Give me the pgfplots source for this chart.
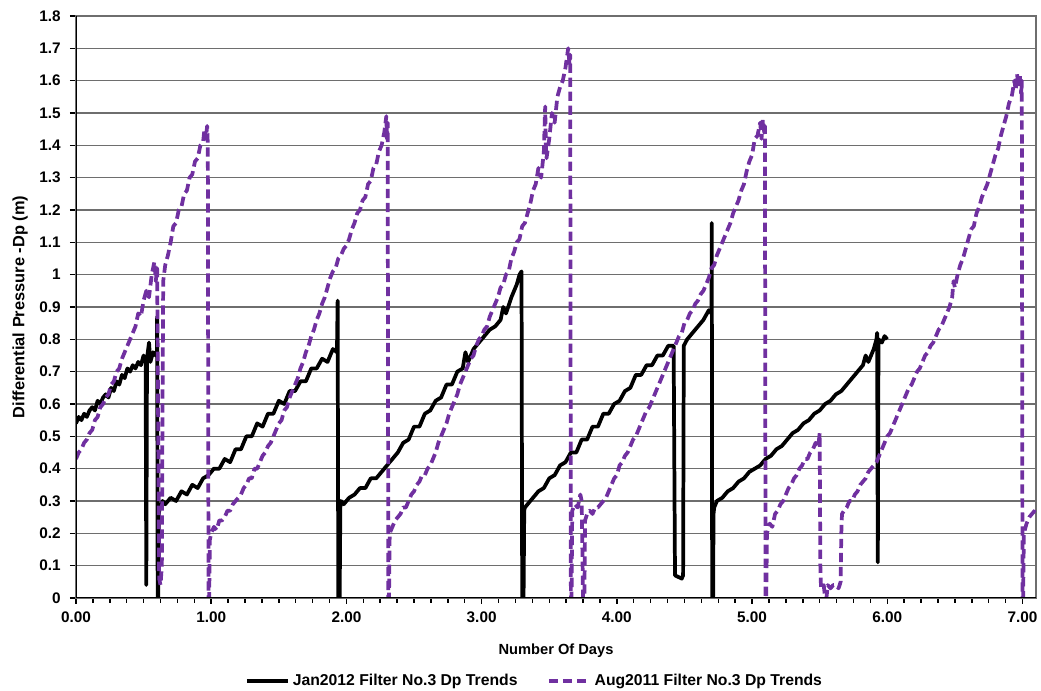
\documentclass[border=0pt]{standalone}
\usepackage{fontspec}
\setmainfont{Liberation Sans}
\usepackage{pgfplots}
\usepackage{pgfplotstable}
\pgfplotsset{compat=1.18}
\definecolor{aug}{RGB}{112,48,160}
\definecolor{gridc}{RGB}{110,110,110}

\pgfplotstableread{
x y
0.00 0.54
0.02 0.56
0.04 0.55
0.06 0.57
0.08 0.56
0.10 0.58
0.12 0.59
0.14 0.58
0.16 0.61
0.18 0.60
0.20 0.62
0.22 0.63
0.24 0.62
0.26 0.65
0.28 0.64
0.30 0.67
0.32 0.66
0.34 0.69
0.36 0.68
0.38 0.71
0.40 0.70
0.42 0.72
0.44 0.71
0.46 0.73
0.48 0.72
0.50 0.75
0.515 0.73
0.520 0.04
0.525 0.74
0.54 0.79
0.55 0.73
0.57 0.76
0.59 0.75
0.598 0.76
0.600 0.87
0.604 0.00
0.608 0.00
0.612 0.26
0.62 0.28
0.64 0.30
0.66 0.29
0.70 0.31
0.74 0.30
0.78 0.33
0.82 0.32
0.86 0.35
0.90 0.34
0.94 0.37
0.98 0.38
1.02 0.40
1.06 0.40
1.10 0.43
1.14 0.42
1.18 0.46
1.22 0.46
1.26 0.50
1.30 0.50
1.34 0.54
1.38 0.53
1.42 0.57
1.46 0.57
1.50 0.61
1.54 0.60
1.58 0.64
1.62 0.64
1.66 0.67
1.70 0.67
1.74 0.71
1.78 0.71
1.82 0.74
1.86 0.73
1.90 0.77
1.93 0.76
1.935 0.92
1.940 0.00
1.950 0.00
1.955 0.28
1.96 0.30
1.98 0.29
2.02 0.31
2.06 0.32
2.10 0.34
2.14 0.34
2.18 0.37
2.22 0.37
2.26 0.39
2.30 0.41
2.34 0.43
2.38 0.45
2.42 0.48
2.46 0.49
2.50 0.53
2.54 0.53
2.58 0.57
2.62 0.58
2.66 0.61
2.70 0.62
2.74 0.66
2.78 0.66
2.82 0.70
2.86 0.71
2.88 0.76
2.90 0.73
2.94 0.77
2.98 0.79
3.02 0.81
3.06 0.83
3.10 0.84
3.14 0.86
3.16 0.90
3.18 0.88
3.22 0.93
3.26 0.97
3.28 1.00
3.295 1.01
3.300 0.00
3.310 0.00
3.315 0.27
3.32 0.28
3.34 0.29
3.38 0.31
3.42 0.33
3.46 0.34
3.50 0.37
3.54 0.38
3.58 0.41
3.62 0.42
3.66 0.45
3.70 0.45
3.74 0.49
3.78 0.49
3.82 0.53
3.86 0.53
3.90 0.57
3.94 0.57
3.98 0.60
4.02 0.61
4.06 0.64
4.10 0.65
4.14 0.69
4.18 0.69
4.22 0.72
4.26 0.72
4.30 0.75
4.34 0.75
4.38 0.78
4.42 0.78
4.430 0.07
4.480 0.06
4.490 0.07
4.495 0.78
4.52 0.80
4.56 0.82
4.60 0.84
4.64 0.86
4.68 0.89
4.70 0.88
4.702 1.16
4.705 0.00
4.712 0.00
4.715 0.26
4.72 0.28
4.74 0.30
4.78 0.31
4.82 0.33
4.86 0.34
4.90 0.36
4.94 0.37
4.98 0.39
5.02 0.40
5.06 0.41
5.10 0.43
5.14 0.44
5.18 0.46
5.22 0.47
5.26 0.49
5.30 0.51
5.34 0.52
5.38 0.54
5.42 0.55
5.46 0.57
5.50 0.58
5.54 0.60
5.58 0.61
5.62 0.63
5.66 0.64
5.70 0.66
5.74 0.68
5.78 0.70
5.82 0.72
5.84 0.75
5.86 0.73
5.90 0.77
5.92 0.80
5.925 0.82
5.930 0.11
5.935 0.80
5.96 0.79
5.98 0.81
6.00 0.80
}\janTable

\pgfplotstableread{
x y
0.00 0.43
0.02 0.45
0.04 0.46
0.06 0.48
0.08 0.49
0.10 0.51
0.12 0.52
0.14 0.55
0.16 0.56
0.18 0.59
0.20 0.60
0.22 0.62
0.24 0.63
0.26 0.66
0.28 0.67
0.30 0.70
0.32 0.71
0.34 0.74
0.36 0.76
0.38 0.78
0.40 0.80
0.42 0.82
0.44 0.84
0.46 0.88
0.48 0.87
0.50 0.92
0.52 0.95
0.54 0.93
0.56 1.00
0.58 1.04
0.59 0.98
0.60 1.02
0.61 0.40
0.615 0.06
0.625 0.04
0.635 0.10
0.64 0.60
0.645 0.98
0.66 1.03
0.68 1.06
0.70 1.10
0.72 1.15
0.74 1.16
0.76 1.20
0.78 1.21
0.80 1.25
0.82 1.26
0.84 1.30
0.86 1.31
0.88 1.35
0.90 1.36
0.92 1.40
0.94 1.41
0.95 1.45
0.96 1.42
0.97 1.46
0.975 1.40
0.980 0.00
0.985 0.00
0.99 0.18
1.00 0.20
1.02 0.22
1.04 0.21
1.06 0.24
1.08 0.24
1.10 0.25
1.12 0.27
1.14 0.27
1.16 0.29
1.18 0.30
1.20 0.31
1.22 0.32
1.24 0.34
1.26 0.35
1.28 0.37
1.30 0.37
1.32 0.40
1.34 0.40
1.36 0.42
1.38 0.44
1.40 0.45
1.42 0.47
1.44 0.48
1.46 0.50
1.48 0.52
1.50 0.54
1.52 0.55
1.54 0.58
1.56 0.59
1.58 0.62
1.60 0.64
1.62 0.66
1.64 0.68
1.66 0.71
1.68 0.73
1.70 0.76
1.72 0.78
1.74 0.81
1.76 0.83
1.78 0.86
1.80 0.88
1.82 0.91
1.84 0.93
1.86 0.96
1.88 0.99
1.90 1.01
1.92 1.02
1.94 1.05
1.96 1.06
1.98 1.08
2.00 1.09
2.02 1.11
2.04 1.14
2.06 1.16
2.08 1.19
2.10 1.20
2.12 1.23
2.14 1.24
2.16 1.28
2.18 1.29
2.20 1.33
2.22 1.34
2.24 1.38
2.26 1.40
2.28 1.44
2.295 1.49
2.300 1.42
2.305 1.47
2.310 0.00
2.315 0.00
2.32 0.20
2.34 0.22
2.36 0.24
2.38 0.25
2.40 0.26
2.42 0.28
2.44 0.28
2.46 0.30
2.48 0.32
2.50 0.33
2.52 0.35
2.54 0.36
2.56 0.38
2.58 0.38
2.60 0.40
2.62 0.41
2.64 0.43
2.66 0.45
2.68 0.48
2.70 0.50
2.72 0.52
2.74 0.54
2.76 0.57
2.78 0.59
2.80 0.61
2.82 0.63
2.84 0.66
2.86 0.68
2.88 0.70
2.90 0.72
2.92 0.74
2.94 0.75
2.96 0.78
2.98 0.80
3.00 0.81
3.02 0.83
3.04 0.84
3.06 0.87
3.08 0.89
3.10 0.91
3.12 0.93
3.14 0.96
3.16 0.97
3.18 1.00
3.20 1.01
3.22 1.05
3.24 1.07
3.26 1.10
3.28 1.11
3.30 1.15
3.32 1.16
3.34 1.19
3.36 1.22
3.38 1.26
3.40 1.28
3.42 1.33
3.44 1.30
3.46 1.38
3.47 1.52
3.475 1.40
3.48 1.36
3.50 1.42
3.52 1.50
3.54 1.47
3.56 1.55
3.58 1.58
3.60 1.60
3.62 1.64
3.64 1.70
3.65 1.65
3.655 1.68
3.660 0.00
3.665 0.00
3.67 0.27
3.69 0.29
3.71 0.28
3.73 0.32
3.74 0.30
3.750 0.00
3.760 0.00
3.765 0.24
3.78 0.26
3.80 0.27
3.82 0.26
3.84 0.28
3.86 0.28
3.88 0.29
3.90 0.30
3.92 0.31
3.94 0.33
3.96 0.35
3.98 0.37
4.00 0.38
4.02 0.41
4.04 0.42
4.06 0.44
4.08 0.45
4.10 0.47
4.12 0.49
4.14 0.50
4.16 0.52
4.18 0.54
4.20 0.56
4.22 0.58
4.24 0.59
4.26 0.61
4.28 0.63
4.30 0.65
4.32 0.67
4.34 0.69
4.36 0.71
4.38 0.73
4.40 0.75
4.42 0.77
4.44 0.79
4.46 0.81
4.48 0.82
4.50 0.85
4.52 0.86
4.54 0.88
4.56 0.89
4.58 0.91
4.60 0.92
4.62 0.94
4.64 0.95
4.66 0.97
4.68 0.99
4.70 1.02
4.72 1.03
4.74 1.06
4.76 1.08
4.78 1.10
4.80 1.12
4.82 1.14
4.84 1.16
4.86 1.19
4.88 1.21
4.90 1.23
4.92 1.26
4.94 1.28
4.96 1.32
4.98 1.35
5.00 1.37
5.02 1.42
5.04 1.43
5.06 1.47
5.07 1.42
5.08 1.48
5.09 1.44
5.095 1.46
5.100 0.00
5.105 0.00
5.11 0.20
5.13 0.23
5.15 0.22
5.17 0.26
5.19 0.27
5.21 0.29
5.23 0.30
5.25 0.32
5.27 0.34
5.29 0.35
5.31 0.37
5.33 0.38
5.35 0.40
5.37 0.41
5.39 0.43
5.41 0.43
5.43 0.45
5.45 0.46
5.47 0.48
5.49 0.47
5.50 0.51
5.505 0.10
5.51 0.03
5.53 0.04
5.54 0.00
5.55 0.00
5.56 0.04
5.58 0.03
5.60 0.04
5.62 0.04
5.64 0.03
5.655 0.05
5.66 0.20
5.665 0.26
5.68 0.27
5.70 0.28
5.72 0.30
5.74 0.30
5.76 0.32
5.78 0.33
5.80 0.35
5.82 0.36
5.84 0.37
5.86 0.39
5.88 0.40
5.90 0.41
5.92 0.42
5.94 0.44
5.96 0.46
5.98 0.48
6.00 0.50
6.02 0.51
6.04 0.53
6.06 0.55
6.08 0.57
6.10 0.59
6.12 0.61
6.14 0.63
6.16 0.65
6.18 0.66
6.20 0.68
6.22 0.70
6.24 0.71
6.26 0.73
6.28 0.75
6.30 0.76
6.32 0.78
6.34 0.79
6.36 0.81
6.38 0.83
6.40 0.84
6.42 0.86
6.44 0.88
6.46 0.90
6.48 0.93
6.49 0.98
6.50 0.96
6.52 1.00
6.54 1.03
6.56 1.05
6.58 1.08
6.60 1.11
6.62 1.14
6.64 1.15
6.66 1.19
6.68 1.21
6.70 1.24
6.72 1.26
6.74 1.28
6.76 1.31
6.78 1.34
6.80 1.37
6.82 1.39
6.84 1.43
6.86 1.46
6.88 1.49
6.90 1.53
6.92 1.55
6.94 1.60
6.95 1.57
6.96 1.62
6.97 1.58
6.98 1.62
6.99 1.56
6.995 1.60
7.000 0.00
7.005 0.00
7.01 0.20
7.03 0.23
7.05 0.25
7.07 0.26
7.09 0.27
7.10 0.28
}\augTable

\begin{document}
\begin{tikzpicture}
\path[use as bounding box] (-57pt,-69.75pt) rectangle (723.75pt,448.5pt);
\begin{axis}[
  at={(0pt,0pt)}, anchor=south west,
  scale only axis, width=720pt, height=436.5pt,
  xmin=0, xmax=7.1, ymin=0, ymax=1.8,
  xtick={0,1,2,3,4,5,6,7},
  xticklabels={0.00,1.00,2.00,3.00,4.00,5.00,6.00,7.00},
  minor xtick={0.125,0.25,...,7.05},
  ytick={0,0.1,0.2,0.3,0.4,0.5,0.6,0.7,0.8,0.9,1,1.1,1.2,1.3,1.4,1.5,1.6,1.7,1.8},
  yticklabels={0,0.1,0.2,0.3,0.4,0.5,0.6,0.7,0.8,0.9,1,1.1,1.2,1.3,1.4,1.5,1.6,1.7,1.8},
  tick align=outside,
  major tick length=4.5pt,
  minor tick length=3.5pt,
  every tick/.style={black, line width=1.1pt},
  xtick pos=bottom, ytick pos=left,
  ymajorgrids,
  major grid style={draw=gridc, line width=1.1pt},
  axis line style={draw=gridc, line width=1.1pt},
  tick label style={font=\bfseries\fontsize{11.5}{13}\selectfont},
  yticklabel style={xshift=-3.5pt},
  xticklabel style={yshift=-2.5pt},
  /pgf/number format/assume math mode=true,
  xlabel={Number Of Days},
  ylabel={Differential Pressure -Dp (m)},
  xlabel style={font=\bfseries\fontsize{11}{13}\selectfont, at={(axis description cs:0.5,-0.09)}, anchor=center},
  ylabel style={font=\bfseries\fontsize{12.3}{14}\selectfont, at={(axis description cs:-0.0583,0.5)}, anchor=center},
  legend style={at={(0.478,-0.1426)}, anchor=center, draw=none, fill=none,
    font=\bfseries\fontsize{11.8}{13}\selectfont,
    legend columns=2,
    /tikz/every even column/.append style={column sep=20pt}},
  legend image code/.code={\draw[#1] (0pt,0pt) -- (31pt,0pt);},
  clip=true,
]
\addplot[black, line width=2.8pt, line join=round] table[x=x,y=y] {\janTable};
\addlegendentry{Jan2012 Filter No.3 Dp Trends}
\addplot[aug, line width=2.8pt, dash pattern=on 7pt off 3.5pt, line join=round] table[x=x,y=y] {\augTable};
\addlegendentry{Aug2011 Filter No.3 Dp Trends}
\draw[black, line width=2pt] (rel axis cs:0,1) -- (rel axis cs:0,0) -- (rel axis cs:1,0);
\end{axis}
\end{tikzpicture}
\end{document}
